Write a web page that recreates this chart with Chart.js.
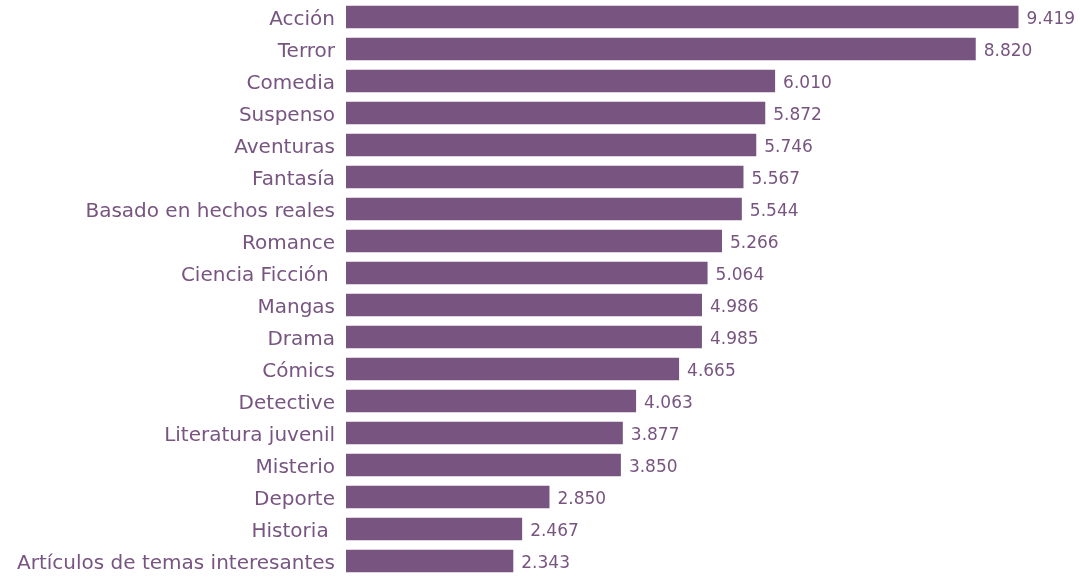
<!DOCTYPE html>
<html>
<head>
<meta charset="utf-8">
<script src="https://cdn.jsdelivr.net/npm/chart.js@4/dist/chart.umd.min.js"></script>
<style>
  html, body { margin: 0; padding: 0; background: #fff; }
  #wrap { width: 1080px; height: 582px; }
</style>
</head>
<body>
<div id="wrap"><canvas id="genreChart"></canvas></div>
<script>
// Data
const genres = ['Acción', 'Terror', 'Comedia', 'Suspenso', 'Aventuras', 'Fantasía',
  'Basado en hechos reales', 'Romance', 'Ciencia Ficción ', 'Mangas', 'Drama', 'Cómics',
  'Detective', 'Literatura juvenil', 'Misterio', 'Deporte', 'Historia ', 'Artículos de temas interesantes'];
const votes = [9419, 8820, 6010, 5872, 5746, 5567, 5544, 5266, 5064, 4986, 4985, 4665,
  4063, 3877, 3850, 2850, 2467, 2343];

const purple = '#775580';
const fontFamily = '"DejaVu Sans", sans-serif';

// Draw the value to the right of each bar
const valueLabels = {
  id: 'valueLabels',
  afterDatasetsDraw(chart) {
    const ctx = chart.ctx;
    ctx.save();
    ctx.fillStyle = purple;
    ctx.font = '17px ' + fontFamily;
    ctx.textBaseline = 'middle';
    chart.getDatasetMeta(0).data.forEach((bar, i) => {
      ctx.fillText(votes[i].toLocaleString('de-DE'), bar.x + 8, bar.y + 3);
    });
    ctx.restore();
  }
};

var ctx = document.getElementById('genreChart').getContext('2d');
new Chart(ctx, {
  type: 'bar',
  data: {
    labels: genres,
    datasets: [{
      data: votes,
      backgroundColor: purple,
      borderWidth: 0,
      barPercentage: 0.7,
      categoryPercentage: 1
    }]
  },
  options: {
    indexAxis: 'y',
    responsive: true,
    maintainAspectRatio: false,
    animation: false,
    layout: { padding: { top: 1, bottom: 5, right: 20, left: 0 } },
    plugins: { legend: { display: false }, tooltip: { enabled: false } },
    scales: {
      x: {
        display: false,
        min: 0,
        max: 10000
      },
      y: {
        grid: { display: false },
        border: { display: false },
        afterFit(scale) {
          scale.width = 346;
          // no extra room for the first/last label
          scale.paddingTop = 0;
          scale.paddingBottom = 0;
        },
        ticks: {
          color: purple,
          padding: 3,
          labelOffset: 3,
          font: { family: fontFamily, size: 20 }
        }
      }
    }
  },
  plugins: [valueLabels]
});
</script>
</body>
</html>
